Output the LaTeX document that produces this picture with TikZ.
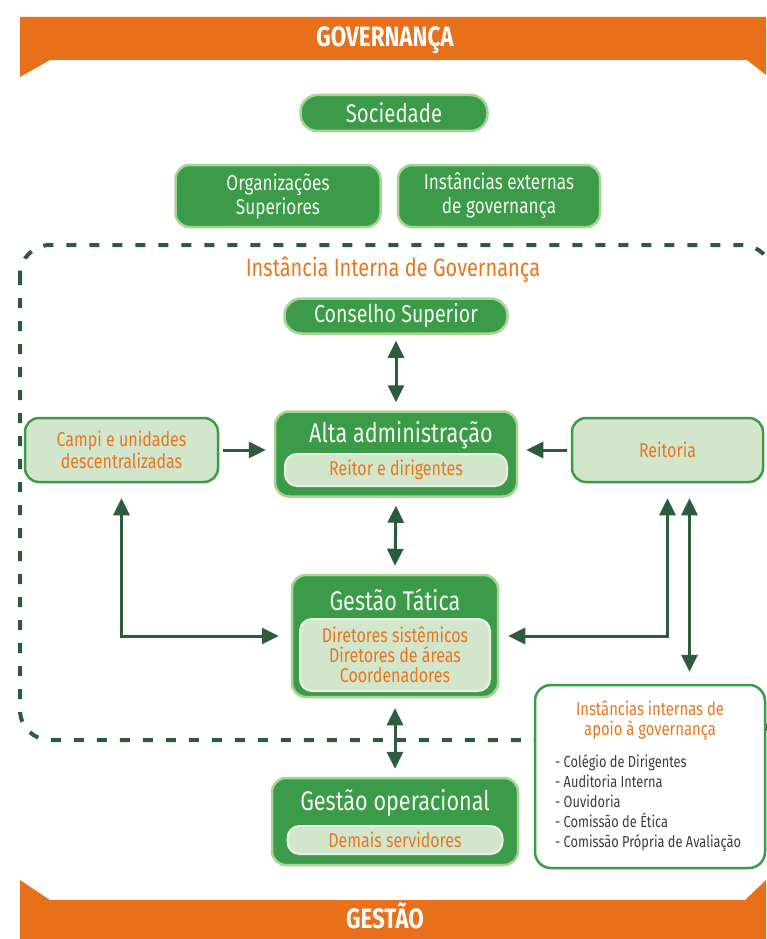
\documentclass[tikz,border=0pt]{standalone}
\usepackage{fontspec}
\setmainfont[FakeStretch=0.8]{Fira Sans}
\usetikzlibrary{arrows.meta}

\definecolor{gfill}{HTML}{3B9B48}
\definecolor{gglow}{HTML}{A3D593}
\definecolor{glight}{HTML}{D2E6CB}
\definecolor{gedge}{HTML}{E6F3E0}
\definecolor{gdark}{HTML}{2D5C3B}
\definecolor{band}{HTML}{E8701A}
\definecolor{otext}{HTML}{E8761F}
\definecolor{wtext}{HTML}{F2FAEE}
\definecolor{ltext}{HTML}{3C3C3C}

\begin{document}
\begin{tikzpicture}[x=1pt,y=-1pt,
  gbox/.style={fill=gfill, draw=gglow, line width=2.5pt, rounded corners=14pt, inner sep=0pt},
  pillbox/.style={gbox, rounded corners=17pt, text=wtext, font=\fontsize{25.5}{28}\selectfont, align=center},
  ibox/.style={fill=glight, draw=gedge, line width=2pt, rounded corners=12pt, inner sep=0pt,
    text=otext, font=\fontsize{20}{20}\selectfont, align=center},
  lbox/.style={fill=glight, draw=gfill, line width=2.5pt, rounded corners=14pt, inner sep=0pt,
    text=otext, font=\fontsize{20}{22}\selectfont, align=center},
  gtitle/.style={text=wtext, font=\fontsize{27}{30}\selectfont, inner sep=0pt},
  bandtext/.style={text=white, font=\bfseries\fontsize{28}{31}\selectfont, inner sep=0pt},
  link/.style={draw=gdark, line width=3pt},
  both/.style={link, {Triangle[length=17pt,width=16pt]}-{Triangle[length=17pt,width=16pt]}},
  one/.style={link, -{Triangle[length=17pt,width=16pt]}}
]
\useasboundingbox (0,0) rectangle (766,939);
\fill[white] (0,0) rectangle (766,939);

% orange banners
\fill[band] (20,17) -- (766,17) -- (766,75) -- (747,60) -- (50,60) -- (20,77) -- cycle;
\fill[band] (20,880) -- (50,900) -- (745,900) -- (766,880) -- (766,939) -- (20,939) -- cycle;
\node[bandtext] (gov) at (385,40) {GOVERNANÇA};
\node[bandtext] (ges) at (385,916) {GESTÃO};

% external bodies
\node[pillbox, minimum width=187pt, minimum height=36pt] (soc) at (394,113) {Sociedade};
\node[gbox, minimum width=205pt, minimum height=62pt, text=wtext,
  font=\fontsize{21.5}{24}\selectfont, align=center] (org) at (278,196) {Organizações\\Superiores};
\node[gbox, minimum width=202pt, minimum height=62pt, text=wtext,
  font=\fontsize{21.5}{24}\selectfont, align=center] (ext) at (499,196) {Instâncias externas\\de governança};

% internal governance frame
\draw[gdark, line width=4pt, dash pattern=on 10pt off 13pt, rounded corners=30pt]
  (20,245) rectangle (772,740);
\node[text=otext, font=\fontsize{25}{28}\selectfont, inner sep=0pt] (iig) at (393,270)
  {Instância Interna de Governança};

\node[pillbox, minimum width=223pt, minimum height=35pt, font=\fontsize{24.5}{27}\selectfont]
  (cons) at (396,316) {Conselho Superior};

% Alta administração
\node[gbox, minimum width=242pt, minimum height=85pt] (alta) at (396,454) {};
\node[gtitle] (altat) at (401,435) {Alta administração};
\node[ibox, minimum width=222pt, minimum height=32pt] (altai) at (396,470) {Reitor e dirigentes};

\node[lbox, minimum width=193pt, minimum height=64pt] (campi) at (121.5,450)
  {Campi e unidades\\descentralizadas};
\node[lbox, minimum width=191pt, minimum height=64pt] (reit) at (667.5,450) {Reitoria};

% Gestão Tática
\node[gbox, minimum width=206pt, minimum height=122pt] (gt) at (395,636) {};
\node[gtitle] (gtt) at (395,600) {Gestão Tática};
\node[ibox, minimum width=190pt, minimum height=72pt] (gti) at (395,655)
  {Diretores sistêmicos\\Diretores de áreas\\Coordenadores};

% Gestão operacional
\node[gbox, minimum width=246pt, minimum height=87pt] (go) at (395,821.5) {};
\node[gtitle] (got) at (395,803) {Gestão operacional};
\node[ibox, minimum width=215pt, minimum height=28pt] (goi) at (395,840) {Demais servidores};

% internal support bodies
\node[fill=white, draw=gfill, line width=2.5pt, rounded corners=16pt,
  minimum width=230pt, minimum height=183pt, inner sep=0pt] (intern) at (650,776.5) {};
\node[text=otext, font=\fontsize{18.5}{20}\selectfont, align=center, inner sep=0pt]
  (internt) at (650,720) {Instâncias internas de\\apoio à governança};
\node[text=ltext, font=\fontsize{16}{20}\selectfont, align=left, inner sep=0pt,
  anchor=north west] (internl) at (555,754)
  {- Colégio de Dirigentes\\- Auditoria Interna\\- Ouvidoria\\- Comissão de Ética\\- Comissão Própria de Avaliação};

% connectors
\draw[both] ([yshift=-6pt]cons.south) -- ([yshift=8pt]alta.north);
\draw[one] ([xshift=4pt]campi.east) -- ([xshift=-8pt]alta.west |- campi.east);
\draw[one] ([xshift=-4pt]reit.west) -- ([xshift=8pt]alta.east |- reit.west);
\draw[both] ([yshift=-8pt]alta.south) -- ([yshift=8pt]gt.north);
\draw[both] ([yshift=-15pt]campi.south) |- ([xshift=-12pt]gt.west);
\draw[both] ([yshift=-15pt]reit.south) |- ([xshift=9pt]gt.east);
\coordinate (rx) at ([xshift=22pt]reit.south);
\draw[both] ([yshift=-15pt]rx) -- ([yshift=12pt]rx |- intern.north);
\draw[both] ([yshift=-10pt]gt.south) -- ([yshift=8pt]go.north);
\end{tikzpicture}
\end{document}
